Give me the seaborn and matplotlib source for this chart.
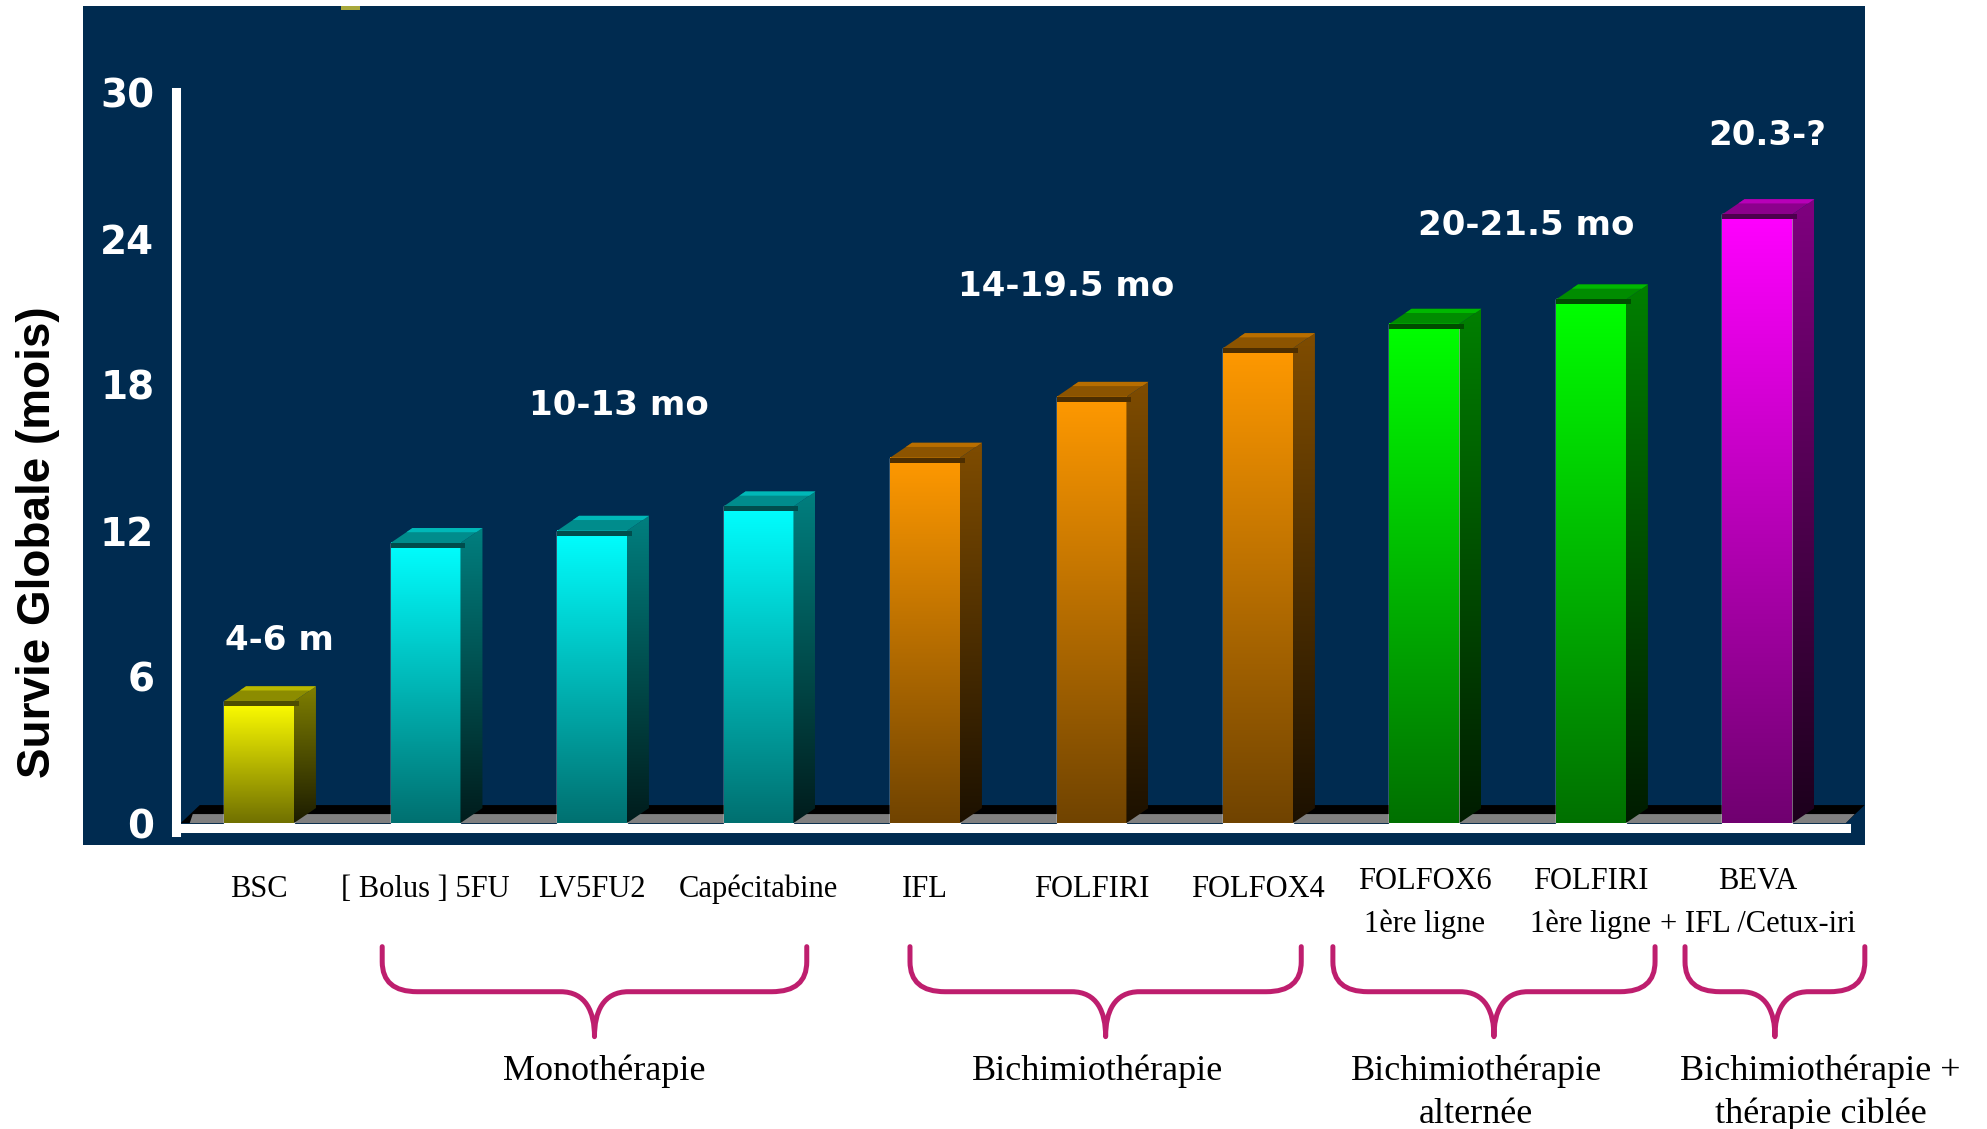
import numpy as np
import pandas as pd
import matplotlib
matplotlib.use("Agg")
import matplotlib.pyplot as plt
import seaborn as sns
from matplotlib.patches import Rectangle, Polygon, PathPatch
from matplotlib.path import Path
from matplotlib import transforms
from matplotlib.colors import to_rgb

# ---- data -------------------------------------------------------------
treatments = ["BSC", "[ Bolus ] 5FU", "LV5FU2", "Capécitabine", "IFL", "FOLFIRI",
              "FOLFOX4", "FOLFOX6\n1ère ligne", "FOLFIRI\n1ère ligne",
              "BEVA\n+ IFL /Cetux-iri"]
survie_mois = [5, 11.5, 12, 13, 15, 17.5, 19.5, 20.5, 21.5, 25]
bar_colors = ["#FFFF00", "#00FFFF", "#00FFFF", "#00FFFF", "#FF9900", "#FF9900",
              "#FF9900", "#00FF00", "#00FF00", "#FF00FF"]

range_labels = ["4-6 m", "10-13 mo", "14-19.5 mo", "20-21.5 mo", "20.3-?"]
range_x = [0.12, 2.16, 4.85, 7.61, 9.06]
range_y = [7.5, 17.15, 22.05, 24.55, 28.25]

groups = ["Monothérapie", "Bichimiothérapie", "Bichimiothérapie\nalternée",
          "Bichimiothérapie +\nthérapie ciblée"]
group_start = [0.74, 3.91, 6.45, 8.565]
group_end = [3.29, 6.26, 8.385, 9.645]
group_label_x = [2.075, 5.035, 7.31, 9.38]

y_ticks = [0, 6, 12, 18, 24, 30]

# ---- style ------------------------------------------------------------
sns.set_style("white")
plt.rcParams["font.family"] = ["DejaVu Sans"]

NAVY = "#002B50"
BRACE = "#BE1E6E"

fig = plt.figure(figsize=(19.87, 11.29), dpi=100)
fig.patch.set_facecolor("white")
W, H = fig.get_size_inches() * fig.dpi

# dark panel behind the chart
fig.add_artist(Rectangle((0.0418, 0.2516), 0.8968, 0.7431, transform=fig.transFigure,
                         facecolor=NAVY, edgecolor="none", zorder=-1))
fig.add_artist(Rectangle((0.1716, 0.9911), 0.0096, 0.0036, transform=fig.transFigure,
                         facecolor="#A8A83A", edgecolor="none", zorder=-0.5))

ax = fig.add_axes([0.08845, 0.25155, 0.85015, 0.74314])
ax.set_facecolor("none")

df = pd.DataFrame({"traitement": treatments, "survie": survie_mois})
sns.barplot(data=df, x="traitement", y="survie", hue="traitement", palette=bar_colors,
            width=0.42, saturation=1, legend=False, ax=ax, zorder=3)
bars = sorted(ax.patches, key=lambda p: p.get_x())

XMIN, XMAX, YMIN, YMAX = -0.5, 9.646, -0.9, 33.55
ax.set_xlim(XMIN, XMAX)
ax.set_ylim(YMIN, YMAX)
ax.set_autoscale_on(False)

inv = ax.transData.inverted()
def px_dx(px):
    return inv.transform((px, 0))[0] - inv.transform((0, 0))[0]
def px_dy(px):
    return inv.transform((0, px))[1] - inv.transform((0, 0))[1]

def shade(c, f):
    return tuple(np.clip(np.array(to_rgb(c)) * f, 0, 1))

def vgrad(top, bottom, n=256):
    t = np.linspace(0, 1, n)[:, None]
    a, b = np.array(top), np.array(bottom)
    return (a[None, :] * (1 - t) + b[None, :] * t)[:, None, :]

DX, DY = px_dx(22), px_dy(15)
STRIP = px_dy(5)

# floor under the bars
xl, xr = XMIN + px_dx(5), 9.5 + px_dx(5)
ax.add_patch(Polygon([(xl, 0), (xr, 0), (xr + px_dx(19), px_dy(18)),
                      (xl + px_dx(19), px_dy(18))], closed=True,
                     facecolor="black", edgecolor="none", zorder=1))
ax.add_patch(Polygon([(xl + px_dx(9), 0), (xr, 0), (xr + px_dx(9), px_dy(9)),
                      (xl + px_dx(12), px_dy(9))], closed=True,
                     facecolor="#808080", edgecolor="none", zorder=1.1))

# extruded bars: gradient front, dark side, lit top
for p, col in zip(bars, bar_colors):
    x0, w, h = p.get_x(), p.get_width(), p.get_height()
    x1 = x0 + w
    ax.imshow(vgrad(to_rgb(col), shade(col, 0.44)), extent=(x0, x1, 0, h),
              aspect="auto", interpolation="bilinear", zorder=3.1)
    side = Polygon([(x1, 0), (x1 + DX, DY), (x1 + DX, h + DY), (x1, h)], closed=True,
                   facecolor="none", edgecolor="none", zorder=3)
    ax.add_patch(side)
    im = ax.imshow(vgrad(shade(col, 0.50), shade(col, 0.11)),
                   extent=(x1, x1 + DX, 0, h + DY), aspect="auto",
                   interpolation="bilinear", zorder=3.1)
    im.set_clip_path(side)
    ax.add_patch(Polygon([(x0, h), (x1, h), (x1 + DX, h + DY), (x0 + DX, h + DY)],
                         closed=True, facecolor=shade(col, 0.55), edgecolor="none",
                         zorder=3.2))
    ax.add_patch(Polygon([(x0 + DX * 0.72, h + DY * 0.72), (x1 + DX * 0.72, h + DY * 0.72),
                          (x1 + DX, h + DY), (x0 + DX, h + DY)], closed=True,
                         facecolor=shade(col, 0.72), edgecolor="none", zorder=3.3))
    ax.add_patch(Rectangle((x0, h - STRIP), w + px_dx(5), STRIP,
                           facecolor=shade(col, 0.30), edgecolor="none", zorder=3.4))

# axes: white spines and ticks
for s in ("top", "right"):
    ax.spines[s].set_visible(False)
for s in ("left", "bottom"):
    ax.spines[s].set_color("white")
    ax.spines[s].set_linewidth(6.5)
    ax.spines[s].set_zorder(5)
ax.spines["bottom"].set_position(("data", -0.185))
ax.spines["bottom"].set_bounds(-0.5, 9.53)
ax.spines["left"].set_bounds(-0.37, 30)

ax.set_yticks(y_ticks)
ax.set_yticklabels([str(v) for v in y_ticks])
ax.set_xticks(np.arange(-0.5, 10, 1.0))
ax.set_xticklabels([])
ax.tick_params(axis="y", direction="out", length=11.5, width=5, color="white",
               pad=4, labelsize=28, labelcolor="white")
ax.tick_params(axis="x", direction="out", length=9.7, width=7.2, color="white")
for lab in ax.get_yticklabels():
    lab.set_fontweight("bold")
    lab.set_family("DejaVu Sans")
ax.set_xlabel("")
ax.set_ylabel("")

# range annotations above bar groups
for txt, x, y in zip(range_labels, range_x, range_y):
    ax.text(x, y, txt, color="white", fontsize=24.5, fontweight="bold",
            family="DejaVu Sans", ha="center", va="center", zorder=6)

blend = transforms.blended_transform_factory(ax.transData, fig.transFigure)

def stacked_text(x, first_baseline, text, size, step):
    # one text per line, baselines spaced by a fixed figure fraction
    for k, line in enumerate(text.split("\n")):
        ax.text(x, first_baseline - k * step, line, transform=blend, ha="center",
                va="baseline", family="Liberation Serif", fontsize=size,
                color="black", clip_on=False)

# treatment names below the axis
for i, name in enumerate(treatments):
    y = 0.2126 if "\n" in name else 0.2055
    stacked_text(i, y, name, 22, 43.5 / H)

# braces grouping treatments
to_fig = ax.transData + fig.transFigure.inverted()
B_TOP, B_MID, B_TIP = 0.1615, 0.1216, 0.0818
def brace(xs, xe):
    xa = to_fig.transform((xs, 0))[0]
    xb = to_fig.transform((xe, 0))[0]
    xm = (xa + xb) / 2
    rx, ry = 35 / W, 30 / H
    cx = 34 / W
    k = B_MID - (B_MID - B_TIP) * 0.45
    verts = [(xa, B_TOP), (xa, B_MID + ry), (xa, B_MID), (xa + rx, B_MID),
             (xm - cx, B_MID), (xm - cx * 0.25, B_MID), (xm, k), (xm, B_TIP),
             (xm, k), (xm + cx * 0.25, B_MID), (xm + cx, B_MID),
             (xb - rx, B_MID), (xb, B_MID), (xb, B_MID + ry), (xb, B_TOP)]
    codes = [Path.MOVETO, Path.LINETO, Path.CURVE3, Path.CURVE3, Path.LINETO,
             Path.CURVE4, Path.CURVE4, Path.CURVE4, Path.CURVE4, Path.CURVE4,
             Path.CURVE4, Path.LINETO, Path.CURVE3, Path.CURVE3, Path.LINETO]
    fig.add_artist(PathPatch(Path(verts, codes), transform=fig.transFigure,
                             facecolor="none", edgecolor=BRACE, linewidth=3.6,
                             capstyle="round", joinstyle="round"))

for xs, xe in zip(group_start, group_end):
    brace(xs, xe)

for name, x in zip(groups, group_label_x):
    stacked_text(x, 0.0434, name, 26, 43 / H)

fig.text(0.0191, 0.520, "Survie Globale (mois)", rotation=90, ha="center",
         va="center", family="Liberation Sans", fontweight="bold", fontsize=33,
         color="black")

fig.savefig("out.png", dpi=100)
